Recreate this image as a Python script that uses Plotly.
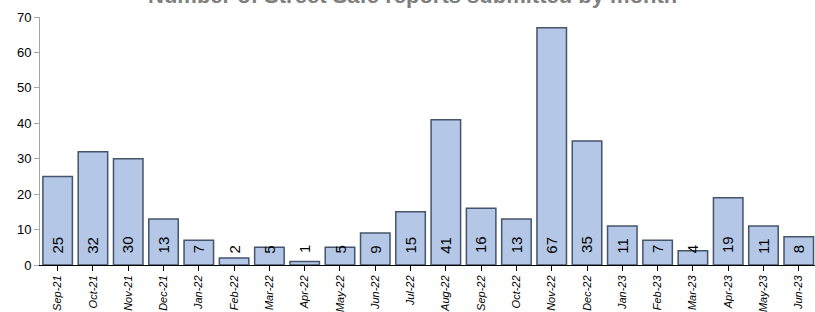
import plotly.graph_objects as go

months = ["Sep-21", "Oct-21", "Nov-21", "Dec-21", "Jan-22", "Feb-22", "Mar-22", "Apr-22",
          "May-22", "Jun-22", "Jul-22", "Aug-22", "Sep-22", "Oct-22", "Nov-22", "Dec-22",
          "Jan-23", "Feb-23", "Mar-23", "Apr-23", "May-23", "Jun-23"]
reports = [25, 32, 30, 13, 7, 2, 5, 1, 5, 9, 15, 41, 16, 13, 67, 35, 11, 7, 4, 19, 11, 8]
y_ticks = [0, 10, 20, 30, 40, 50, 60, 70]
title_text = "Number of Street Safe reports submitted by month"

FONT = "Liberation Sans, Arial, sans-serif"

fig = go.Figure()
fig.add_trace(go.Bar(
    x=list(range(len(months))),
    y=reports,
    width=0.836,
    marker=dict(color="#B4C7E7", line=dict(color="#44546A", width=1.5)),
    hoverinfo="skip",
))

annotations = []
for i, v in enumerate(reports):
    annotations.append(dict(
        x=i, y=2.7, xref="x", yref="y", text=str(v), showarrow=False,
        textangle=-90, font=dict(family=FONT, size=15, color="#000000"),
        xanchor="center", yanchor="bottom",
    ))

annotations.append(dict(
    x=0.48, y=1, xref="paper", yref="paper", text="<b>" + title_text + "</b>",
    showarrow=False, xanchor="center", yanchor="middle", yshift=22,
    font=dict(family=FONT, size=22, color="#7F7F7F"),
))

fig.update_layout(
    width=815, height=312,
    margin=dict(l=40, r=0, t=17, b=47, pad=0),
    paper_bgcolor="white", plot_bgcolor="white",
    showlegend=False,
    annotations=annotations,
    font=dict(family=FONT),
)
fig.update_xaxes(
    range=[-0.5, 21.46],
    automargin=False,
    tickmode="array",
    tickvals=list(range(len(months))),
    ticktext=["<i>" + m + "</i>" for m in months],
    tickangle=-90,
    tickfont=dict(family=FONT, size=11, color="#000000"),
    showline=True, linecolor="#000000", linewidth=1,
    ticks="outside", ticklen=5, tickcolor="#000000", tickson="boundaries",
    showgrid=False, zeroline=False,
)
fig.update_yaxes(
    range=[0, 70],
    automargin=False,
    tickmode="array",
    tickvals=y_ticks,
    tickfont=dict(family=FONT, size=13, color="#000000"),
    showline=True, linecolor="#A6A6A6", linewidth=1,
    ticks="outside", ticklen=5, tickcolor="#A6A6A6",
    showgrid=False, zeroline=False,
)

fig.write_html("out.html", config={"displayModeBar": False},
               post_script="document.body.style.margin='0px';")
